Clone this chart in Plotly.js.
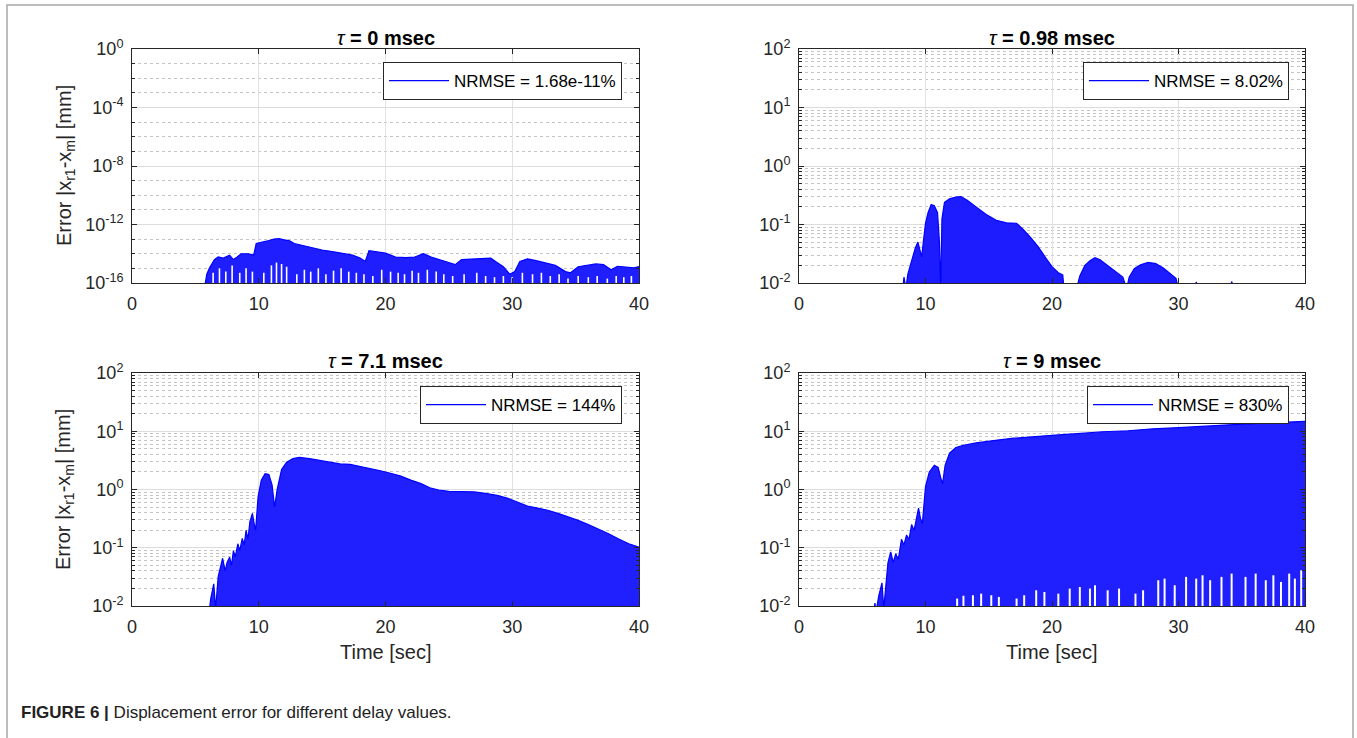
<!DOCTYPE html>
<html><head><meta charset="utf-8">
<script src="https://cdn.plot.ly/plotly-3.0.1.min.js"></script>
<style>html,body{margin:0;padding:0;background:#fff;} #chart{width:1357px;height:738px;}</style>
</head><body><div id="chart"></div>
<script>
// ---------------- data ----------------
const panelTaus = ['0', '0.98', '7.1', '9'];
const nrmseLabels = ['NRMSE = 1.68e-11%', 'NRMSE = 8.02%', 'NRMSE = 144%', 'NRMSE = 830%'];
const xTickVals = [0, 10, 20, 30, 40];
const xTickText = ['0', '10', '20', '30', '40'];
const yTickValsTL = [1e-16, 1e-12, 1e-8, 1e-4, 1];
const yTickTextTL = ['10<sup>-16</sup>', '10<sup>-12</sup>', '10<sup>-8</sup>', '10<sup>-4</sup>', '10<sup>0</sup>'];
const yTickVals = [0.01, 0.1, 1, 10, 100];
const yTickText = ['10<sup>-2</sup>', '10<sup>-1</sup>', '10<sup>0</sup>', '10<sup>1</sup>', '10<sup>2</sup>'];

// tau = 0 msec : upper envelope of |error|
const tlTime = [5.6,5.75,5.9,6.1,6.5,6.8,7.2,7.7,8.0,8.3,8.6,9.2,9.6,9.8,10.3,10.8,11.2,11.6,12.0,12.4,12.8,13.5,14.2,15.0,15.8,16.6,17.4,18.0,18.4,18.7,19.3,20.0,20.8,21.6,22.3,23.0,23.6,24.3,25.0,25.5,26.0,26.8,27.6,28.3,28.8,29.3,29.8,30.2,30.6,31.2,31.8,32.6,33.4,34.2,34.6,35.2,35.8,36.6,37.2,37.8,38.3,39.0,39.6,40.0];
const tlErr  = [1e-17,1e-16,4e-16,1e-15,4e-15,6e-15,5e-15,8e-15,4e-15,6e-15,1e-14,1e-14,8e-15,5e-14,6e-14,8e-14,1e-13,1.1e-13,9e-14,8e-14,5e-14,3.5e-14,2.5e-14,1.8e-14,1.4e-14,1e-14,8e-15,5e-15,3e-15,1.6e-14,1.4e-14,1.1e-14,6e-15,5.5e-15,6e-15,1e-14,6e-15,4e-15,2.5e-15,1.8e-15,4e-15,4.5e-15,5e-15,5e-15,2.5e-15,1.3e-15,4e-16,6e-16,3e-15,4.5e-15,3.5e-15,2.5e-15,1.6e-15,6e-16,5e-16,1.3e-15,1.6e-15,2e-15,1.8e-15,8e-16,1.4e-15,1.3e-15,1.1e-15,1.3e-15];
const tlGapTime = [6.4,6.9,7.4,7.9,8.5,9.0,9.5,10.4,11.0,11.4,11.8,12.2,13.0,13.6,14.1,14.7,15.3,15.9,16.5,17.1,17.7,18.3,19.0,19.7,20.4,21.0,21.5,22.1,22.6,23.3,24.0,24.6,25.3,26.2,27.2,27.9,28.6,29.3,30.0,30.8,31.6,32.3,33.0,33.7,34.4,35.2,36.0,36.7,37.5,38.2,38.8,39.4];
const tlGapErr  = [5e-16,1e-15,6e-16,1.6e-15,5e-16,1e-15,6e-16,5e-16,1.6e-15,2.5e-15,2e-15,1.3e-15,4e-16,8e-16,6e-16,1e-15,4e-16,7e-16,1e-15,6e-16,5e-16,4e-16,3e-16,8e-16,6e-16,5e-16,4e-16,7e-16,5e-16,8e-16,6e-16,4e-16,3e-16,4e-16,5e-16,3e-16,2.5e-16,3e-16,2.5e-16,5e-16,4e-16,5e-16,3e-16,4e-16,2e-16,3e-16,2.5e-16,3e-16,2e-16,3e-16,2.5e-16,3e-16];

// tau = 0.98 msec
const trTime = [8.1,8.3,8.45,8.6,8.8,9.0,9.2,9.4,9.55,9.7,9.85,10.0,10.2,10.45,10.7,10.95,11.1,11.2,11.3,11.5,11.9,12.4,12.8,13.3,14.0,14.8,15.6,16.4,17.2,17.7,18.3,18.9,19.5,20.0,20.5,20.85,20.95,22.0,22.2,22.6,23.0,23.4,23.8,24.4,25.0,25.6,25.9,26.1,26.5,27.0,27.6,28.2,28.8,29.4,29.8,30.0,31.3,31.4,31.6,34.1,34.2,34.4,40.0];
const trErr  = [0.005,0.0126,0.008,0.014,0.02,0.028,0.04,0.05,0.035,0.028,0.056,0.105,0.16,0.22,0.21,0.16,0.05,0.008,0.125,0.24,0.275,0.295,0.3,0.26,0.2,0.148,0.118,0.107,0.105,0.083,0.06,0.042,0.027,0.019,0.015,0.0138,0.008,0.009,0.0132,0.02,0.024,0.027,0.025,0.02,0.016,0.0126,0.008,0.0126,0.0175,0.0205,0.0225,0.0215,0.018,0.014,0.012,0.008,0.008,0.0104,0.008,0.008,0.0106,0.008,0.008];

// tau = 7.1 msec
const blTime = [6.0,6.2,6.45,6.6,6.8,6.95,7.15,7.35,7.5,7.7,7.85,8.0,8.15,8.35,8.5,8.7,8.85,9.0,9.15,9.3,9.5,9.65,9.75,9.95,10.2,10.5,10.8,11.05,11.25,11.45,11.8,12.2,12.7,13.2,14.0,14.8,15.6,16.4,17.2,18.0,18.8,19.6,20.4,21.2,22.0,22.8,23.5,24.2,25.0,26.0,27.0,28.0,28.8,29.6,30.4,31.2,32.0,32.8,33.6,34.4,35.2,36.0,36.8,37.6,38.4,39.2,40.0];
const blErr  = [0.005,0.013,0.024,0.009,0.032,0.045,0.066,0.04,0.056,0.069,0.05,0.089,0.07,0.117,0.089,0.145,0.112,0.2,0.14,0.28,0.39,0.25,0.2,0.76,1.45,1.86,1.8,1.2,0.5,1.0,2.2,2.95,3.4,3.55,3.4,3.16,2.95,2.75,2.7,2.5,2.3,2.1,1.9,1.7,1.45,1.26,1.07,0.98,0.93,0.91,0.91,0.85,0.79,0.71,0.6,0.52,0.48,0.44,0.39,0.34,0.295,0.25,0.21,0.174,0.141,0.117,0.102];

// tau = 9 msec
const brTime = [5.8,6.0,6.1,6.3,6.56,6.7,7.03,7.25,7.45,7.65,7.85,8.1,8.3,8.5,8.7,8.9,9.1,9.3,9.45,9.6,9.75,10.0,10.3,10.7,11.0,11.2,11.35,11.55,11.9,12.4,13.0,14.0,15.0,16.0,17.0,18.5,20.0,22.0,24.0,26.0,28.0,30.0,32.0,34.0,36.0,38.0,40.0];
const brErr  = [0.005,0.0112,0.008,0.0148,0.025,0.009,0.055,0.085,0.056,0.079,0.063,0.14,0.112,0.166,0.14,0.25,0.2,0.355,0.48,0.32,0.26,1.12,2.0,2.6,2.4,1.6,1.26,2.6,4.2,5.25,5.75,6.3,6.8,7.2,7.6,8.1,8.5,9.1,9.8,10.2,11.0,11.5,12.3,12.9,13.5,14.1,14.8];
const brGapTime = [12.5,13.0,13.75,14.4,15.2,15.8,17.2,17.8,18.75,19.4,20.5,21.4,22.2,23.0,23.4,24.4,25.3,26.6,27.2,28.4,28.9,29.7,30.6,31.4,31.9,32.5,33.4,34.2,35.3,36.1,36.9,37.5,38.1,38.75,39.2,39.7];
const brGapErr  = [0.0134,0.015,0.0153,0.0163,0.0153,0.0143,0.0134,0.0153,0.0186,0.0174,0.0163,0.0199,0.0212,0.0199,0.0227,0.0186,0.0199,0.0163,0.0186,0.0277,0.0295,0.0227,0.0316,0.0295,0.0337,0.0277,0.0316,0.036,0.0316,0.036,0.0277,0.0337,0.0259,0.036,0.0295,0.041];

// ---------------- build ----------------
const BLUE = '#0000ff';
const FONT = 'Liberation Sans, Arial, Helvetica, sans-serif';
const W = 1357, H = 738;
const px = v => v / W, py = v => 1 - v / H;

function gapXY(ts, vs, base) {
  const x = [], y = [];
  for (let i = 0; i < ts.length; i++) { x.push(ts[i], ts[i], null); y.push(base, vs[i], null); }
  return {x, y};
}

const panels = [
  {xa: 'x',  ya: 'y',  t: tlTime, v: tlErr, gt: tlGapTime, gv: tlGapErr, base: 1e-18, lg: 'legend', fc: 'rgb(30,30,255)', gw: 1.6},
  {xa: 'x2', ya: 'y2', t: trTime, v: trErr, gt: [], gv: [], base: 1e-3, lg: 'legend2', fc: 'rgb(28,28,255)', gw: 2},
  {xa: 'x3', ya: 'y3', t: blTime, v: blErr, gt: [], gv: [], base: 1e-3, lg: 'legend3', fc: 'rgb(32,32,255)', gw: 2},
  {xa: 'x4', ya: 'y4', t: brTime, v: brErr, gt: brGapTime, gv: brGapErr, base: 1e-3, lg: 'legend4', fc: 'rgb(32,32,255)', gw: 2}
];

const traces = [];
panels.forEach((p, i) => {
  traces.push({x: [0, 40], y: [p.base, p.base], xaxis: p.xa, yaxis: p.ya, mode: 'lines',
    line: {width: 0, color: BLUE}, showlegend: false, hoverinfo: 'skip'});
  traces.push({x: p.t, y: p.v, xaxis: p.xa, yaxis: p.ya, mode: 'lines', fill: 'tonexty',
    fillcolor: p.fc, line: {width: 0, color: BLUE}, showlegend: false, hoverinfo: 'skip'});
  if (p.gt.length) {
    const g = gapXY(p.gt, p.gv, p.base);
    traces.push({x: g.x, y: g.y, xaxis: p.xa, yaxis: p.ya, mode: 'lines',
      line: {width: p.gw, color: '#ffffff'}, showlegend: false, hoverinfo: 'skip', connectgaps: false});
  }
  traces.push({x: p.t, y: p.v, xaxis: p.xa, yaxis: p.ya, mode: 'lines', name: nrmseLabels[i],
    line: {width: 1.2, color: BLUE}, legend: p.lg, hoverinfo: 'skip'});
});

const minorDecades = [];
[0.01, 0.1, 1, 10].forEach(d => { for (let k = 2; k <= 9; k++) minorDecades.push(+(d * k).toPrecision(3)); });
const minorTL = [];
for (let e = -15; e <= -1; e++) { if (e % 4 !== 0) minorTL.push(Math.pow(10, e)); }

const AX = '#262626';
function xAxis(dom, anchor) {
  return {domain: dom, anchor: anchor, range: [0, 40], tickmode: 'array', tickvals: xTickVals, ticktext: xTickText,
    ticks: 'inside', ticklen: 5, tickcolor: AX, showline: true, linecolor: AX, linewidth: 1, mirror: 'ticks',
    showgrid: true, gridcolor: '#e2e2e2', gridwidth: 1, zeroline: false,
    tickfont: {family: FONT, size: 18, color: AX}, ticklabelstandoff: 4, fixedrange: true};
}
function yAxis(dom, anchor, tl) {
  return {domain: dom, anchor: anchor, type: 'log', range: tl ? [-16, 0] : [-2, 2], tickmode: 'array',
    tickvals: tl ? yTickValsTL : yTickVals, ticktext: tl ? yTickTextTL : yTickText,
    ticks: 'inside', ticklen: 5, tickcolor: AX, showline: true, linecolor: AX, linewidth: 1, mirror: 'ticks',
    showgrid: true, gridcolor: '#dcdcdc', gridwidth: 1, zeroline: false,
    minor: {tickmode: 'array', tickvals: tl ? minorTL : minorDecades, ticks: 'inside', ticklen: 3, tickcolor: AX,
      showgrid: true, gridcolor: '#c4c4c4', griddash: 'dot', gridwidth: 1},
    tickfont: {family: FONT, size: 18, color: AX}, ticklabelstandoff: 4, fixedrange: true};
}

const xL = [px(132), px(639)], xR = [px(799), px(1305)];
const yT = [py(283), py(49)], yB = [py(606), py(373)];

function legendAt(xr, yt) {
  return {x: px(xr), y: py(yt), xanchor: 'right', yanchor: 'top', bgcolor: '#ffffff', bordercolor: AX, borderwidth: 1,
    font: {family: FONT, size: 17, color: '#000'}, itemwidth: 60, itemclick: false, itemdoubleclick: false};
}

const ann = [];
const titleCenters = [[385.5, 38], [1052, 38], [385.5, 361], [1052, 361]];
panelTaus.forEach((tau, i) => {
  ann.push({xref: 'paper', yref: 'paper', x: px(titleCenters[i][0]), y: py(titleCenters[i][1]), xanchor: 'center', yanchor: 'middle',
    text: '<i>τ</i><b> = ' + tau + ' msec</b>', showarrow: false, font: {family: FONT, size: 20, color: '#000'}});
});
const yLabel = 'Error |x<sub>r1</sub>-x<sub>m</sub>| [mm]';
[[65, 166], [65, 490]].forEach(c => ann.push({xref: 'paper', yref: 'paper', x: px(c[0]), y: py(c[1]), xanchor: 'center', yanchor: 'middle',
  text: yLabel, textangle: -90, showarrow: false, font: {family: FONT, size: 20, color: AX}}));
[[385.5, 652], [1052, 652]].forEach(c => ann.push({xref: 'paper', yref: 'paper', x: px(c[0]), y: py(c[1]), xanchor: 'center', yanchor: 'middle',
  text: 'Time [sec]', showarrow: false, font: {family: FONT, size: 20, color: AX}}));
ann.push({xref: 'paper', yref: 'paper', x: px(19), y: py(712), xanchor: 'left', yanchor: 'middle',
  text: '<b>FIGURE 6 |</b> Displacement error for different delay values.', showarrow: false,
  font: {family: FONT, size: 17, color: '#222'}});

const layout = {
  width: W, height: H, margin: {l: 0, r: 0, t: 0, b: 0}, paper_bgcolor: '#fff', plot_bgcolor: '#fff',
  showlegend: true, hovermode: false, font: {family: FONT},
  xaxis: xAxis(xL, 'y'), yaxis: yAxis(yT, 'x', true),
  xaxis2: xAxis(xR, 'y2'), yaxis2: yAxis(yT, 'x2', false),
  xaxis3: xAxis(xL, 'y3'), yaxis3: yAxis(yB, 'x3', false),
  xaxis4: xAxis(xR, 'y4'), yaxis4: yAxis(yB, 'x4', false),
  legend: legendAt(622, 62), legend2: legendAt(1289, 62), legend3: legendAt(622, 386), legend4: legendAt(1289, 386),
  annotations: ann,
  shapes: [{type: 'rect', xref: 'paper', yref: 'paper', x0: px(7), x1: px(1353), y0: -0.1, y1: py(5),
    line: {color: '#a8a8a8', width: 1.5}, fillcolor: 'rgba(0,0,0,0)', layer: 'below'}]
};

Plotly.newPlot('chart', traces, layout, {staticPlot: true, displayModeBar: false});
</script></body></html>
